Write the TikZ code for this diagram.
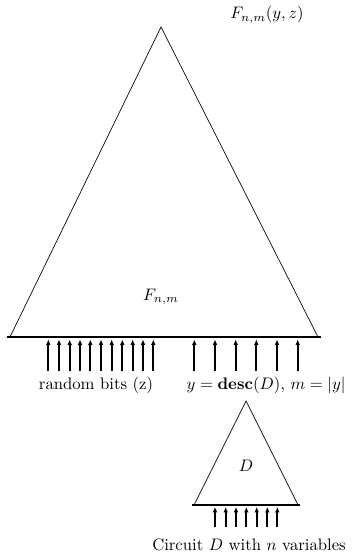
\documentclass[tikz,border=0pt]{standalone}
\usepackage{amsmath}
\usepackage{amssymb}
\usetikzlibrary{arrows.meta}

\begin{document}
\begin{tikzpicture}[x=0.6pt, y=-0.6pt, >={Latex[length=3.2pt,width=2.8pt]},
    gate/.style={draw, line join=miter},
    baseline/.style={draw, line width=1.2pt},
    bit/.style={->, line width=1pt}]

    \useasboundingbox (0,0) rectangle (353,554);

    % Corners of the big circuit F
    \coordinate (Ftop) at (161,27);
    \coordinate (Fleft) at (10,337);
    \coordinate (Fright) at (318,337);

    % Corners of the small circuit D
    \coordinate (Dtop) at (246,401);
    \coordinate (Dleft) at (194,505);
    \coordinate (Dright) at (298,505);

    % Draw the two triangles
    \draw[gate] (Fleft) -- (Ftop) -- (Fright);
    \draw[baseline] ([xshift=-2]Fleft) -- ([xshift=2]Fright);
    \draw[gate] (Dleft) -- (Dtop) -- (Dright);
    \draw[baseline] ([xshift=-1]Dleft) -- ([xshift=1]Dright);

    % Input wires: random bits and description bits
    \foreach \x in {48.3,59,69.7,80,90.3,101,111.7,122.3,132.7,143,153.3}
        \draw[bit] (\x,371) -- (\x,339.5);
    \foreach \x in {194.3,215,235.7,256.3,277,297.7}
        \draw[bit] (\x,371) -- (\x,339.5);

    % Input wires of D
    \foreach \x in {215,225.7,236,246.3,256.7,267.3,277.3}
        \draw[bit] (\x,527) -- (\x,507);

    % Labels
    \node (Fout) at (267,15) {$F_{n,m}(y,z)$};
    \node (Fname) at (161,297) {$F_{n,m}$};
    \node (rand) at (96,385) {random bits (z)};
    \node (desc) at (266,385) {$y=\mathbf{desc}(D)$, $m=|y|$};
    \node (Dname) at (246,466) {$D$};
    \node (Dcap) at (249,545) {Circuit $D$ with $n$ variables};

\end{tikzpicture}
\end{document}
